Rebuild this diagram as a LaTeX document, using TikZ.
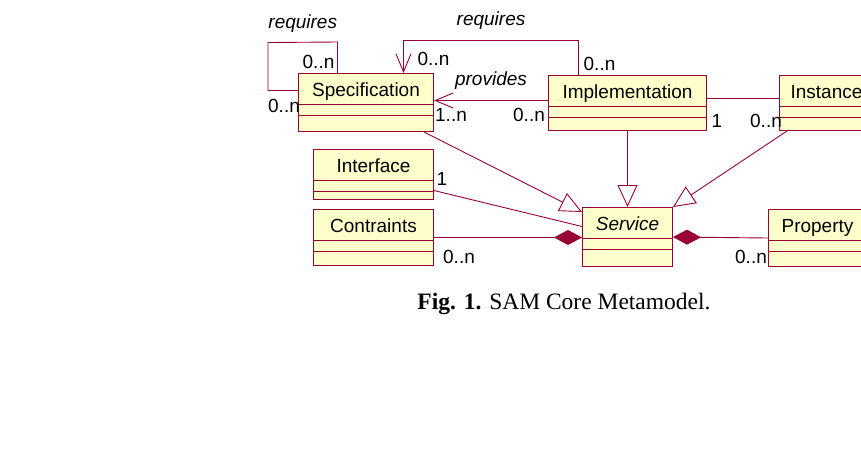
\documentclass[tikz,border=0pt]{standalone}
\usepackage{fontspec}
\setmainfont{Liberation Sans}
\newfontfamily\captionfont{Liberation Serif}
\usepackage{tikz}
\usetikzlibrary{arrows.meta,positioning,calc}
\definecolor{umlred}{RGB}{153,0,51}
\definecolor{umlfill}{RGB}{255,255,204}
\newcommand{\umlsize}{\fontsize{19}{23}\selectfont}
\tikzset{
  cls/.style 2 args={draw=umlred,fill=umlfill,line width=1pt,inner sep=0pt,%
    anchor=north west,font=\umlsize,minimum width=#1,%
    text height=23pt,text depth=#2,%
    path picture={\draw[umlred,line width=1pt]
      ([yshift=-31pt]path picture bounding box.north west) --
      ([yshift=-31pt]path picture bounding box.north east)
      ([yshift=-42pt]path picture bounding box.north west) --
      ([yshift=-42pt]path picture bounding box.north east);}},
  assoc/.style={draw=umlred,line width=0.9pt},
  nav/.style={assoc,-{Straight Barb[length=18pt,width=15pt]}},
  gen/.style={assoc,-{Triangle[open,length=22pt,width=20pt]}},
  comp/.style={assoc,-{Diamond[length=28pt,width=15pt,fill=umlred]}},
  comps/.style={assoc,{Diamond[length=28pt,width=15pt,fill=umlred]}-},
  mult/.style={font=\umlsize,inner sep=1pt},
  role/.style={font=\umlsize\itshape,inner sep=1pt},
}

\begin{document}
\begin{tikzpicture}[x=1pt,y=-1pt]
\useasboundingbox (0,0) rectangle (861,448);
\clip (0,0) rectangle (861,448);
\node[cls={135pt}{35pt}] (spec) at (298,73) {Specification};
\node[cls={158pt}{32pt}] (impl) at (548,75) {Implementation};
\node[cls={94pt}{32pt}] (inst) at (779,75) {Instance};
\node[cls={120pt}{27pt}] (intf) at (313,149) {Interface};
\node[cls={120pt}{33pt}] (cons) at (313,209) {Contraints};
\node[cls={90pt}{36pt}] (serv) at (582,207) {\itshape Service};
\node[cls={98pt}{34pt}] (prop) at (768,209) {Property};
\draw[assoc] ([yshift=12pt]spec.west) node[mult,xshift=-14pt,yshift=-15pt] (m1) {0..n}
  -- ++(-30,0) -- ++(0,-48) -- ([xshift=-28.5pt,yshift=31pt]spec.north)
  node[role,midway,yshift=19pt] (r1) {requires}
  -- ([xshift=-28.5pt]spec.north) node[mult,xshift=-19pt,yshift=11pt] (m2) {0..n};
\draw[nav] ([xshift=-49pt]impl.north) node[mult,xshift=21pt,yshift=11pt] (m3) {0..n}
  -- ++(0,-35) -- ([xshift=37.5pt,yshift=33pt]spec.north)
  node[role,midway,yshift=19pt] (r2) {requires}
  -- ([xshift=37.5pt]spec.north) node[mult,xshift=30pt,yshift=14pt] (m4) {0..n};
\draw[nav] ([yshift=2.5pt]impl.west) node[mult,xshift=-19pt,yshift=-14pt] (m5) {0..n}
  -- ([yshift=2pt]spec.east) node[role,midway,yshift=20pt] (r3) {provides}
  node[mult,xshift=17pt,yshift=-14pt] (m6) {1..n};
\draw[assoc] ([yshift=4.5pt]impl.east) node[mult,xshift=10pt,yshift=-22pt] (m7) {1}
  -- ([yshift=4.5pt]inst.west) node[mult,xshift=-13pt,yshift=-22pt] (m8) {0..n};
\draw[gen] ([xshift=-10pt]spec.south east) -- ([yshift=-5pt]serv.north west);
\draw[gen] (impl.south) -- (serv.north);
\draw[gen] ([xshift=8pt]inst.south west) -- (serv.north east);
\draw[assoc] ([yshift=-16pt]intf.east) node[mult,xshift=8pt,yshift=12pt] (m9) {1}
  -- ([yshift=10.5pt]serv.west);
\draw[comp] (cons.east) node[mult,xshift=25pt,yshift=-19pt] (m10) {0..n}
  -- (cons.east -| serv.west);
\draw[comps] (serv.east) -- (prop.west)
  node[mult,xshift=-17pt,yshift=-19pt] (m11) {0..n};
\node[font={\captionfont\fontsize{23.5}{28}\selectfont}] (cap) at (564,304)
  {\textbf{Fig. 1.} SAM Core Metamodel.};
\end{tikzpicture}
\end{document}
